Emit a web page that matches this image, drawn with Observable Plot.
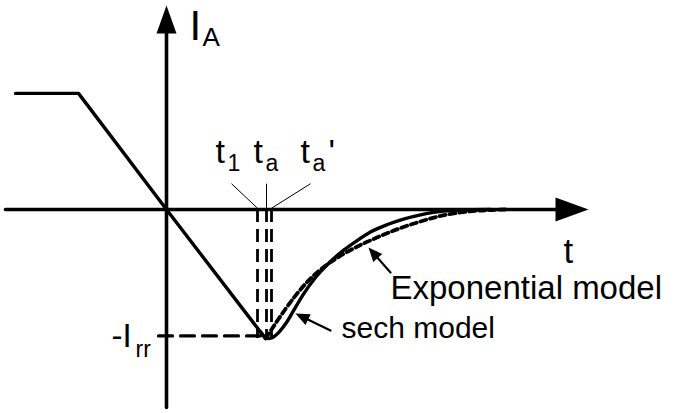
<!DOCTYPE html>
<html><head><meta charset="utf-8">
<script src="https://cdn.jsdelivr.net/npm/d3@7"></script>
<script src="https://cdn.jsdelivr.net/npm/@observablehq/plot@0.6"></script>
<style>body{margin:0;background:#fff}svg{display:block}</style>
</head><body><div id="chart"></div>
<script>
// ---- data (t in units of ~ta, I in units of Irr) ----
const tAxisExtent = [-1.61, 4.22];
const iAxisExtent = [-1.535, 1.581];

const mainT = [-1.51, -0.88, 0, 0.99];
const mainI = [0.9, 0.9, 0, -1];

const sechT = [0.94, 0.98, 1.02, 1.07, 1.13, 1.20, 1.26, 1.36, 1.49, 1.63, 1.76, 1.87, 2.04, 2.21, 2.37, 2.54, 2.67, 2.84, 3.04, 3.24];
const sechI = [-0.947, -0.986, -1.0, -0.988, -0.946, -0.876, -0.798, -0.667, -0.527, -0.411, -0.322, -0.260, -0.174, -0.116, -0.074, -0.041, -0.022, -0.008, -0.002, 0];

const expT = [0.99, 1.04, 1.11, 1.19, 1.29, 1.43, 1.56, 1.68, 1.77, 1.94, 2.07, 2.21, 2.37, 2.54, 2.74, 2.94, 3.14, 3.39];
const expI = [-1.0, -0.942, -0.860, -0.771, -0.667, -0.543, -0.453, -0.388, -0.345, -0.275, -0.229, -0.182, -0.136, -0.093, -0.050, -0.023, -0.008, 0];

const markerNames = ["t1", "ta", "ta'"];
const markerT = [0.91, 1.0, 1.05];
const markerLabelT = [0.65, 1.0, 1.44];
const irrLevel = -0.98;
const irrStartT = -0.08;

// text annotations (base + subscript)
const labels = [
  {text: "I", t: 0.23, i: 1.31, size: 42},
  {text: "A", t: 0.36, i: 1.27, size: 26},
  {text: "t", t: 0.49, i: 0.364, size: 34},
  {text: "1", t: 0.61, i: 0.30, size: 23},
  {text: "t", t: 0.87, i: 0.364, size: 34},
  {text: "a", t: 0.99, i: 0.30, size: 23},
  {text: "t", t: 1.34, i: 0.364, size: 34},
  {text: "a", t: 1.46, i: 0.30, size: 23},
  {text: "'", t: 1.62, i: 0.364, size: 34},
  {text: "t", t: 3.97, i: -0.411, size: 35},
  {text: "Exponential model", t: 2.24, i: -0.69, size: 33},
  {text: "sech model", t: 1.75, i: -0.992, size: 30},
  {text: "-I", t: -0.55, i: -1.062, size: 33},
  {text: "rr", t: -0.31, i: -1.14, size: 23}
];
const pointers = [
  {tail: [2.24, -0.488], tip: [2.02, -0.295]},
  {tail: [1.64, -0.938], tip: [1.29, -0.806]}
];

// ---- chart ----
const W = 675, H = 413;
const xDomain = [-1.66, 5.09], yDomain = [-1.581, 1.620];
const xs = d3.scaleLinear(xDomain, [0, W]);
const ys = d3.scaleLinear(yDomain, [H, 0]);
const font = "Liberation Sans, Arial, sans-serif";

function arrowHead(angle, L, Wd) {
  return {draw(ctx) {
    const c = Math.cos(angle), s = Math.sin(angle);
    const bx = -L * c, by = -L * s;
    ctx.moveTo(0, 0);
    ctx.lineTo(bx + Wd * s, by - Wd * c);
    ctx.lineTo(bx - Wd * s, by + Wd * c);
    ctx.closePath();
  }};
}

const pts = (T, I) => T.map((t, k) => ({t, i: I[k]}));

const marks = [
  // axes shafts
  Plot.arrow([{x1: tAxisExtent[0], x2: tAxisExtent[1], y1: 0, y2: 0}], {x1: "x1", x2: "x2", y1: "y1", y2: "y2", headLength: 0, insetEnd: 12, strokeWidth: 3.6, stroke: "black"}),
  Plot.arrow([{x1: 0, x2: 0, y1: iAxisExtent[0], y2: iAxisExtent[1]}], {x1: "x1", x2: "x2", y1: "y1", y2: "y2", headLength: 0, insetEnd: 12, strokeWidth: 3.6, stroke: "black"}),
  Plot.dot([{t: tAxisExtent[1], i: 0}], {x: "t", y: "i", symbol: arrowHead(0, 33, 12), fill: "black", stroke: "none"}),
  Plot.dot([{t: 0, i: iAxisExtent[1]}], {x: "t", y: "i", symbol: arrowHead(-Math.PI / 2, 28, 10), fill: "black", stroke: "none"}),
  // -Irr dashed line
  Plot.line([{t: irrStartT, i: irrLevel}, {t: mainT[3], i: irrLevel}], {x: "t", y: "i", strokeWidth: 3.2, strokeDasharray: "14,8", stroke: "black"}),
  // vertical dashed markers
  Plot.ruleX(markerT, {y1: 0, y2: -1, strokeWidth: 2.8, strokeDasharray: "13,7", stroke: "black"}),
  // leader lines
  Plot.link(markerT.map((t, k) => ({name: markerNames[k], t, lt: markerLabelT[k]})), {x1: "lt", y1: 0.2, x2: "t", y2: 0.01, strokeWidth: 1, stroke: "black"}),
  // main current waveform
  Plot.line(pts(mainT, mainI), {x: "t", y: "i", strokeWidth: 3.4, stroke: "black", strokeLinejoin: "miter"}),
  // exponential model
  Plot.line(pts(expT, expI), {x: "t", y: "i", curve: "monotone-x", strokeWidth: 3.8, strokeDasharray: "6,4", stroke: "black"}),
  // sech model
  Plot.line(pts(sechT, sechI), {x: "t", y: "i", curve: "monotone-x", strokeWidth: 3.4, stroke: "black"}),
];

for (const p of pointers) {
  const ang = Math.atan2(ys(p.tip[1]) - ys(p.tail[1]), xs(p.tip[0]) - xs(p.tail[0]));
  marks.push(Plot.arrow([p], {x1: d => d.tail[0], y1: d => d.tail[1], x2: d => d.tip[0], y2: d => d.tip[1], headLength: 0, insetEnd: 8, strokeWidth: 2.2, stroke: "black"}));
  marks.push(Plot.dot([p], {x: d => d.tip[0], y: d => d.tip[1], symbol: arrowHead(ang, 14, 6), fill: "black", stroke: "none"}));
}

for (const l of labels) {
  marks.push(Plot.text([l], {x: "t", y: "i", text: "text", fontSize: l.size, fontFamily: font, textAnchor: "start", lineAnchor: "bottom", fill: "black"}));
}

const chart = Plot.plot({
  width: W, height: H,
  margin: 0,
  style: {background: "white", fontFamily: font},
  x: {domain: xDomain, range: [0, W], axis: null},
  y: {domain: yDomain, range: [H, 0], axis: null},
  marks
});
document.getElementById("chart").appendChild(chart);
</script>
</body></html>
